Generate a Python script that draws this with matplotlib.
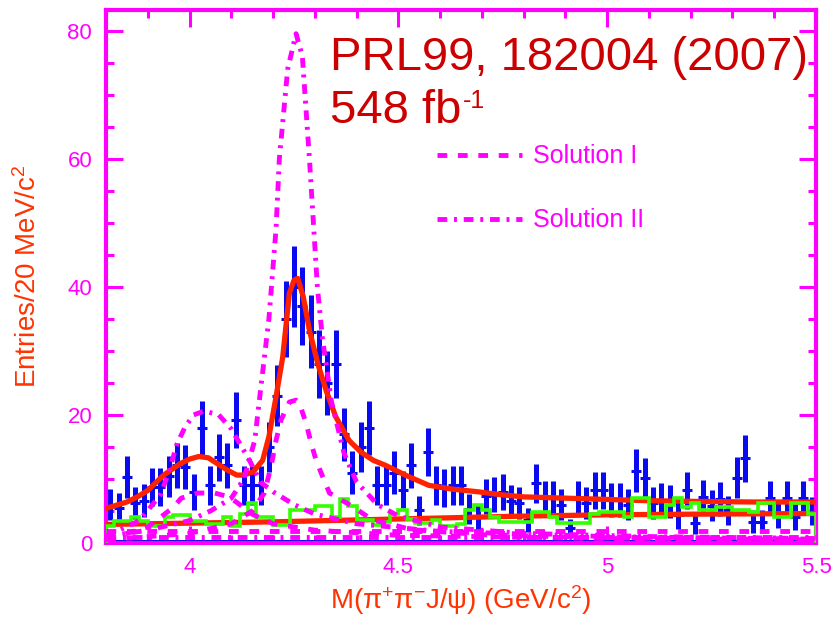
import numpy as np
import matplotlib
matplotlib.use('Agg')
import matplotlib.pyplot as plt
from matplotlib.ticker import MultipleLocator

plt.rcParams['font.family'] = ['Liberation Sans', 'DejaVu Sans']
plt.rcParams['mathtext.fontset'] = 'custom'
plt.rcParams['mathtext.rm'] = 'Liberation Sans'
plt.rcParams['mathtext.it'] = 'Liberation Sans:italic'
plt.rcParams['mathtext.bf'] = 'Liberation Sans:bold'

MAG = '#ff00ff'
BLUE = '#0a0af0'
RED = '#ff2200'
GREEN = '#33ff00'
LABEL = '#ff3300'
TXT = '#cc0000'

# --- data (20 MeV bins from 3.80 to 5.50 GeV) ---
bin_lo = 3.80
bin_w = 0.02
counts = [6.0, 5.5, 10.3, 6.3, 6.6, 8.8, 8.8, 10.4, 12.1, 11.9,
          8.0, 18.0, 9.0, 13.4, 12.1, 19.2, 9.0, 9.0, 9.0, 15.0,
          23.0, 35.0, 40.0, 37.0, 33.0, 28.0, 25.0, 28.0, 17.0, 11.0,
          15.0, 18.0, 9.0, 9.0, 11.0, 8.3, 12.1, 5.1, 14.2, 9.0,
          8.6, 9.0, 9.0, 5.3, 4.1, 7.3, 7.5, 8.0, 6.5, 6.3,
          3.6, 9.3, 7.0, 7.0, 6.0, 2.3, 7.0, 6.2, 8.2, 8.2,
          6.7, 6.7, 6.0, 11.3, 10.1, 6.3, 6.7, 6.5, 4.3, 8.2,
          3.1, 7.2, 5.8, 6.9, 5.1, 10.2, 13.2, 3.3, 3.3, 7.0,
          4.4, 7.0, 4.1, 7.0, 5.0]

sideband = [2.6, 3.4, 3.4, 4.1, 3.4, 2.6, 2.6, 4.1, 4.4, 4.4,
            3.4, 3.4, 3.0, 3.0, 4.1, 2.6, 4.6, 6.2, 4.0, 4.0,
            2.8, 2.8, 5.2, 5.2, 5.2, 5.7, 5.7, 4.0, 6.8, 5.7,
            3.6, 3.6, 2.8, 3.3, 4.6, 5.1, 3.8, 3.1, 3.1, 3.6,
            2.6, 2.6, 3.0, 5.1, 5.9, 5.1, 4.1, 3.3, 3.3, 3.3,
            3.3, 4.9, 4.9, 4.1, 3.1, 3.1, 3.1, 3.1, 4.6, 4.9,
            4.9, 4.9, 4.1, 7.0, 7.0, 4.1, 4.1, 6.0, 7.0, 5.6,
            6.2, 5.1, 5.1, 5.6, 5.6, 5.1, 5.1, 4.9, 6.2, 6.2,
            4.1, 4.1, 6.2, 6.2, 4.6]

# total fit (red, solid)
fit_x = [3.80, 3.85, 3.875, 3.90, 3.938, 3.978, 4.00, 4.022, 4.045, 4.066,
         4.09, 4.113, 4.13, 4.152, 4.175, 4.19, 4.207, 4.223, 4.239, 4.25,
         4.259, 4.272, 4.287, 4.307, 4.327, 4.35, 4.382, 4.41, 4.44, 4.47,
         4.52, 4.573, 4.63, 4.69, 4.75, 4.80, 4.90, 5.00, 5.10, 5.20, 5.35, 5.50]
fit_y = [5.4, 6.4, 7.2, 8.2, 10.6, 12.4, 13.1, 13.5, 13.3, 12.4,
         11.4, 10.6, 10.6, 11.1, 12.9, 16.6, 22.8, 29.0, 39.0, 41.0,
         41.3, 38.5, 33.2, 28.0, 23.8, 19.7, 16.0, 14.2, 12.9, 12.1,
         10.5, 9.0, 8.4, 8.0, 7.5, 7.2, 7.0, 6.8, 6.6, 6.5, 6.4, 6.4]

# background fit (red, solid)
bg_x = [3.80, 4.00, 4.20, 4.40, 4.60, 4.80, 5.00, 5.20, 5.50]
bg_y = [2.9, 3.1, 3.3, 3.6, 3.9, 4.2, 4.4, 4.5, 4.6]

# Solution I components (dashed)
s1a_x = [3.80, 3.90, 3.94, 3.96, 3.98, 4.02, 4.06, 4.095, 4.12, 4.15, 4.20, 4.30, 4.50, 5.00, 5.50]
s1a_y = [0.5, 2.5, 4.5, 5.5, 7.0, 7.8, 7.8, 7.2, 6.0, 4.5, 3.0, 2.0, 1.2, 0.7, 0.5]
s1b_x = [3.80, 4.00, 4.10, 4.15, 4.179, 4.195, 4.207, 4.219, 4.239, 4.255, 4.263,
         4.279, 4.291, 4.303, 4.319, 4.335, 4.39, 4.438, 4.49, 4.53, 4.70, 5.00, 5.50]
s1b_y = [0.5, 1.5, 3.0, 5.0, 7.8, 11.9, 16.0, 19.2, 22.0, 22.3, 21.8,
         18.7, 15.6, 12.9, 10.3, 7.8, 5.7, 3.6, 2.8, 2.1, 1.3, 0.8, 0.5]
s1c_x = [3.80, 5.50]
s1c_y = [1.8, 1.8]

# Solution II components (dash-dot)
s2a_x = [3.80, 3.88, 3.93, 3.95, 3.97, 3.99, 4.01, 4.035, 4.07, 4.10, 4.125,
         4.145, 4.17, 4.20, 4.25, 4.30, 4.40, 4.60, 5.00, 5.50]
s2a_y = [1.0, 3.5, 7.5, 11.0, 15.5, 18.2, 20.0, 20.6, 20.0, 17.8, 15.0,
         12.7, 9.5, 8.0, 6.0, 4.5, 3.0, 1.8, 1.0, 0.6]
s2b_x = [3.80, 3.90, 4.00, 4.05, 4.10, 4.13, 4.156, 4.172, 4.19, 4.207, 4.215,
         4.235, 4.255, 4.27, 4.287, 4.306, 4.318, 4.34, 4.37, 4.40, 4.45,
         4.50, 4.60, 4.80, 5.10, 5.50]
s2b_y = [1.0, 2.0, 3.5, 5.0, 7.0, 10.0, 16.0, 25.0, 35.0, 49.0, 60.0,
         74.0, 79.5, 76.0, 60.0, 40.0, 32.0, 22.0, 14.0, 9.5, 6.0,
         4.2, 2.5, 1.5, 1.0, 0.7]
s2c_x = [3.80, 5.50]
s2c_y = [0.9, 0.9]

zero_x = [3.80, 5.50]
zero_y = [0.3, 0.3]

# --- figure ---
fig = plt.figure(figsize=(8.33, 6.25), dpi=100)
ax = fig.add_axes([0.1273, 0.1312, 0.8523, 0.8528])

edges = bin_lo + bin_w * np.arange(len(counts) + 1)
centers = 0.5 * (edges[:-1] + edges[1:])
counts = np.array(counts)

ax.plot(zero_x, zero_y, color=BLUE, lw=2.2, zorder=2)
ax.errorbar(centers, counts, yerr=np.sqrt(counts), fmt='_', color=BLUE,
            ms=7, mew=2.2, elinewidth=3.6, capsize=0, zorder=2)
ax.plot(fit_x, fit_y, color=RED, lw=3.8, zorder=3, solid_capstyle='round')
ax.plot(bg_x, bg_y, color=RED, lw=3.8, zorder=3)
ax.stairs(sideband, edges, color=GREEN, lw=2.6, baseline=0, zorder=4)

dash1 = (2.0, 2.2)
dash2 = (2.0, 1.4, 0.6, 1.4)
l1, = ax.plot(s1a_x, s1a_y, color=MAG, lw=3.5, dashes=dash1, zorder=5)
ax.plot(s1b_x, s1b_y, color=MAG, lw=3.5, dashes=dash1, zorder=5)
ax.plot(s1c_x, s1c_y, color=MAG, lw=3.5, dashes=dash1, zorder=5)
l2, = ax.plot(s2a_x, s2a_y, color=MAG, lw=3.5, dashes=dash2, zorder=5)
ax.plot(s2b_x, s2b_y, color=MAG, lw=3.5, dashes=dash2, zorder=5)
ax.plot(s2c_x, s2c_y, color=MAG, lw=3.5, dashes=dash2, zorder=5)

ax.set_xlim(3.8, 5.5)
ax.set_ylim(0, 83.2)
ax.xaxis.set_minor_locator(MultipleLocator(0.1))
ax.yaxis.set_major_locator(MultipleLocator(20))
ax.yaxis.set_minor_locator(MultipleLocator(5))
ax.set_xticks([4, 4.5, 5, 5.5])
ax.set_xticklabels(['4', '4.5', '5', '5.5'])

for s in ax.spines.values():
    s.set_color(MAG)
    s.set_linewidth(3)
ax.tick_params(which='both', direction='in', top=True, right=True,
               color=MAG, width=2.2, labelcolor=MAG, labelsize=16, pad=10)
ax.tick_params(which='major', length=12)
ax.tick_params(which='minor', length=6)

ax.set_xlabel('M(π$^{+}$π$^{-}$J/ψ) (GeV/c$^{2}$)', color=LABEL, fontsize=20)
ax.set_ylabel('Entries/20 MeV/c$^{2}$', color=LABEL, fontsize=20)
ax.xaxis.set_label_coords(0.5, -0.075)
ax.yaxis.set_label_coords(-0.09, 0.5)

leg = ax.legend([l1, l2], ['Solution I', 'Solution II'], loc='upper left',
                bbox_to_anchor=(0.466, 0.748), frameon=False, fontsize=18,
                handlelength=3.4, handletextpad=0.45, labelspacing=1.6,
                borderpad=0, borderaxespad=0, labelcolor=MAG)

fig.text(0.396, 0.888, 'PRL99, 182004 (2007)', color=TXT, fontsize=34, va='baseline')
fig.text(0.396, 0.803, '548 fb', color=TXT, fontsize=34, va='baseline')
fig.text(0.556, 0.828, '-1', color=TXT, fontsize=18, va='baseline')

fig.savefig('out.png', dpi=100)
